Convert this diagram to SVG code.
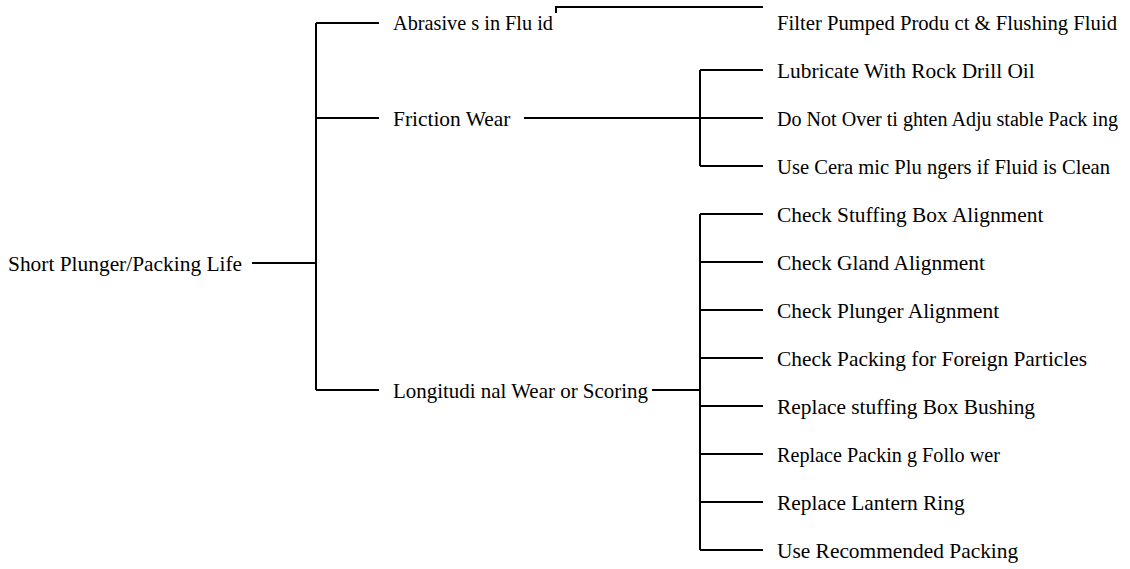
<svg xmlns="http://www.w3.org/2000/svg" width="1130" height="569" viewBox="0 0 1130 569">
<style>
.t{font-family:"Liberation Serif","Times New Roman",serif;font-size:21.4px;fill:#000}
.c{fill:none;stroke:#000;stroke-width:2}
</style>
<rect width="1130" height="569" fill="#fff"/>
<g id="connectors">
<path class="c" d="M252 263H316M316 23V390M316 23H379M316 118H379M316 390H379"/>
<path class="c" d="M556 13V7H763"/>
<path class="c" d="M524 118H700M700 70V166M700 70H763M700 118H763M700 166H763"/>
<path class="c" d="M652 390H700M700 214V550M700 214H763M700 262H763M700 310H763M700 358H763M700 406H763M700 454H763M700 502H763M700 550H763"/>
</g>
<g id="root"><text class="t" x="8" y="271">Short Plunger/Packing Life</text></g>
<g id="abrasives"><text class="t" x="393" y="30" textLength="160" lengthAdjust="spacingAndGlyphs">Abrasive s in Flu id</text></g>
<g id="friction"><text class="t" x="393" y="126">Friction Wear</text></g>
<g id="longitudinal"><text class="t" x="393" y="398" textLength="255" lengthAdjust="spacingAndGlyphs">Longitudi nal Wear or Scoring</text></g>
<g id="filter"><text class="t" x="777" y="30" style="font-size:20.6px" textLength="340" lengthAdjust="spacingAndGlyphs">Filter Pumped Produ ct &amp; Flushing Fluid</text></g>
<g id="lubricate"><text class="t" x="777" y="78">Lubricate With Rock Drill Oil</text></g>
<g id="overtighten"><text class="t" x="777" y="126" style="font-size:20px" textLength="341" lengthAdjust="spacingAndGlyphs">Do Not Over ti ghten Adju stable Pack ing</text></g>
<g id="ceramic"><text class="t" x="777" y="174" textLength="333" lengthAdjust="spacingAndGlyphs">Use Cera mic Plu ngers if Fluid is Clean</text></g>
<g id="stuffing-align"><text class="t" x="777" y="222">Check Stuffing Box Alignment</text></g>
<g id="gland-align"><text class="t" x="777" y="270">Check Gland Alignment</text></g>
<g id="plunger-align"><text class="t" x="777" y="318">Check Plunger Alignment</text></g>
<g id="foreign"><text class="t" x="777" y="366">Check Packing for Foreign Particles</text></g>
<g id="bushing"><text class="t" x="777" y="414">Replace stuffing Box Bushing</text></g>
<g id="follower"><text class="t" x="777" y="462" textLength="223" lengthAdjust="spacingAndGlyphs">Replace Packin g Follo wer</text></g>
<g id="lantern"><text class="t" x="777" y="510">Replace Lantern Ring</text></g>
<g id="recommended"><text class="t" x="777" y="558">Use Recommended Packing</text></g>
</svg>
